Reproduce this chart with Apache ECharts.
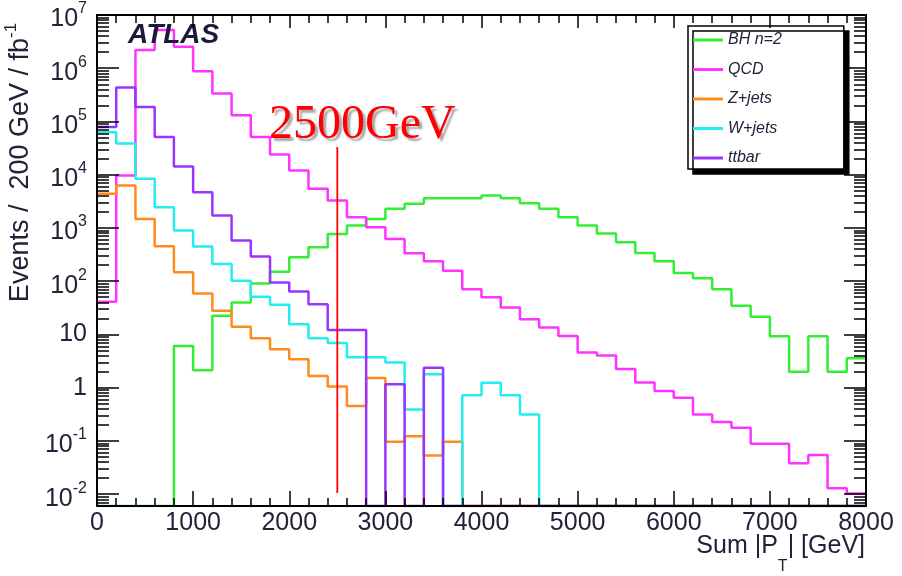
<!DOCTYPE html>
<html>
<head>
<meta charset="utf-8">
<script src="https://cdn.jsdelivr.net/npm/echarts@6.0.0/dist/echarts.min.js"></script>
<style>
html, body { margin: 0; padding: 0; background: #fff; }
#main { width: 902px; height: 576px; }
</style>
</head>
<body>
<div id="main"></div>
<script>
// bin edges in GeV (200 GeV bins, 0 - 8000)
var binEdges = [0, 200, 400, 600, 800, 1000, 1200, 1400, 1600, 1800,
    2000, 2200, 2400, 2600, 2800, 3000, 3200, 3400, 3600, 3800,
    4000, 4200, 4400, 4600, 4800, 5000, 5200, 5400, 5600, 5800,
    6000, 6200, 6400, 6600, 6800, 7000, 7200, 7400, 7600, 7800, 8000];

// events / 200 GeV / fb^-1, one value per bin (0 = empty bin)
var bhN2 = [0, 0, 0, 0, 6.1, 2.13, 22.4, 40, 91, 151,
    281, 433, 774, 1110, 1480, 2290, 2840, 3630, 3630, 3630,
    4070, 3630, 2920, 2290, 1590, 1110, 789, 542, 340, 236,
    142, 114, 71, 34.6, 21.4, 9.3, 1.99, 9.3, 1.99, 3.56];
var qcd = [41, 9700, 2.19e6, 5.2e6, 2.53e6, 8.8e5, 3.35e5, 1.31e5, 5.1e4, 2.41e4,
    1.2e4, 5450, 3280, 1590, 1030, 623, 334, 236, 158, 71,
    50, 32, 19.4, 13.5, 9.4, 4.56, 4.04, 2.25, 1.25, 0.87,
    0.65, 0.314, 0.226, 0.176, 0.0886, 0.0886, 0.0382, 0.0547, 0.0129, 0.0103];
var zJets = [4390, 6280, 1480, 456, 147, 58.9, 27.8, 13.9, 8.5, 5.28,
    3.43, 1.66, 1.05, 0.452, 1.52, 0.097, 0.123, 0.0533, 0.097, 0,
    0, 0, 0, 0, 0, 0, 0, 0, 0, 0,
    0, 0, 0, 0, 0, 0, 0, 0, 0, 0];
var wJets = [6.3e4, 3.84e4, 8410, 2460, 894, 451, 211, 102, 51, 36,
    15.6, 8.5, 6.9, 3.74, 3.74, 2.96, 0.39, 1.79, 0, 0.72,
    1.24, 0.72, 0.315, 0, 0, 0, 0, 0, 0, 0,
    0, 0, 0, 0, 0, 0, 0, 0, 0, 0];
var ttbar = [7.9e4, 4.34e5, 1.87e5, 5.1e4, 1.43e4, 4700, 1710, 580, 292, 95,
    64, 37, 12.1, 12.1, 0, 1.16, 0, 2.38, 0, 0,
    0, 0, 0, 0, 0, 0, 0, 0, 0, 0,
    0, 0, 0, 0, 0, 0, 0, 0, 0, 0];

var seriesNames = ['BH n=2', 'QCD', 'Z+jets', 'W+jets', 'ttbar'];
var seriesColors = ['#33ee33', '#ff33ff', '#ff8a1e', '#22eeee', '#9933ff'];
var seriesValues = [bhN2, qcd, zJets, wJets, ttbar];

// y tick labels (decades)
var decades = [0.01, 0.1, 1, 10, 100, 1e3, 1e4, 1e5, 1e6, 1e7];
var Y_MIN = 0.006, Y_MAX = 1e7;

// cut line at 2500 GeV
var CUT_GEV = 2500;
var cutRange = [0.0105, 33000];

var FONT = 'Liberation Sans';
var TXT = '#222238';

// minor ticks 2..9 of each decade
var minorTicks = [];
for (var d = 0.001; d < Y_MAX; d *= 10) {
    for (var k = 2; k <= 9; k++) {
        var t = +(d * k).toPrecision(3);
        if (t >= Y_MIN && t <= Y_MAX) minorTicks.push(t);
    }
}

// histogram as step line: value of bin i from edge i to edge i+1
function histData(vals) {
    var out = [];
    for (var i = 0; i < binEdges.length; i++) {
        var v = vals[Math.min(i, vals.length - 1)];
        out.push([binEdges[i], v > 0 ? v : Y_MIN]);
    }
    return out;
}

var blackLine = { color: '#000', width: 2 };
var tickLine = { color: '#000', width: 1.5 };

var xCommon = {
    type: 'value', min: 0, max: 8000, interval: 1000, z: 10,
    splitLine: { show: false },
    axisLine: { show: true, onZero: false, lineStyle: blackLine }
};
var yCommon = {
    type: 'log', logBase: 10, min: Y_MIN, max: Y_MAX, z: 10,
    splitLine: { show: false }, minorTick: { show: false }, minorSplitLine: { show: false }
};

function yLabel(v) {
    var e = Math.round(Math.log10(v));
    if (e === 0) return '1';
    if (e === 1) return '10';
    return '{b|10}{s|' + e + '}';
}

var myChart = echarts.init(document.getElementById('main'));

var series = [];
for (var i = 0; i < seriesNames.length; i++) {
    series.push({
        name: seriesNames[i],
        type: 'line',
        step: 'end',
        data: histData(seriesValues[i]),
        symbol: 'none',
        color: seriesColors[i],
        lineStyle: { color: seriesColors[i], width: 2.5 },
        xAxisIndex: 0,
        yAxisIndex: 0
    });
}
// red cut line with its label on top
series.push({
    name: 'cut',
    type: 'line',
    data: [[CUT_GEV, cutRange[0]], [CUT_GEV, cutRange[1]]],
    symbol: 'none',
    silent: true,
    color: '#ff0000',
    lineStyle: { color: '#ff0000', width: 1.8 },
    xAxisIndex: 0,
    yAxisIndex: 0,
    markPoint: {
        silent: true,
        symbol: 'rect', symbolSize: 1,
        itemStyle: { color: 'transparent' },
        data: [{ coord: [CUT_GEV, cutRange[1]] }],
        label: {
            show: true, position: 'top', distance: 0, offset: [25, 3],
            formatter: CUT_GEV + 'GeV',
            fontFamily: 'Liberation Serif', fontSize: 48, lineHeight: 48,
            color: '#ff0000',
            textShadowColor: 'rgba(0,0,0,0.35)', textShadowBlur: 2,
            textShadowOffsetX: 3, textShadowOffsetY: 3
        }
    }
});

var option = {
    animation: false,
    // ATLAS tag and x axis title
    title: [
        {
            text: 'ATLAS', left: 128, top: 21, padding: 0,
            textStyle: { fontFamily: FONT, fontStyle: 'italic', fontWeight: 'bold', fontSize: 28, lineHeight: 28, color: '#1a1a3a' }
        },
        {
            text: '{a|Sum |P}{t|T}{a|| [GeV]}', right: 37, top: 534, padding: 0,
            textStyle: {
                rich: {
                    a: { fontFamily: FONT, fontSize: 25, fontWeight: 'normal', color: TXT, lineHeight: 30, verticalAlign: 'top' },
                    t: { fontFamily: FONT, fontSize: 16, fontWeight: 'normal', color: TXT, lineHeight: 18, padding: [25, 0, 0, 0], verticalAlign: 'top' }
                }
            }
        }
    ],
    grid: { left: 97, right: 36, top: 15, bottom: 70, outerBoundsMode: 'none' },
    legend: {
        data: seriesNames,
        orient: 'vertical',
        left: 688, top: 26,
        icon: 'rect', itemWidth: 30, itemHeight: 3, itemGap: 13.5,
        padding: [6, 62, 3, 5],
        backgroundColor: '#fff',
        borderColor: '#000', borderWidth: 1.5, borderRadius: 0,
        shadowColor: '#000', shadowBlur: 0, shadowOffsetX: 5, shadowOffsetY: 5,
        selectedMode: false,
        textStyle: { fontFamily: FONT, fontStyle: 'italic', fontSize: 16, lineHeight: 16, color: TXT }
    },
    xAxis: [
        Object.assign({}, xCommon, {
            position: 'bottom',
            axisTick: { show: true, inside: true, length: 15, lineStyle: tickLine },
            minorTick: { show: true, splitNumber: 5, length: 8, lineStyle: tickLine },
            axisLabel: { fontFamily: FONT, fontSize: 25, color: TXT, margin: 5,
                formatter: function (v) { return String(v); } }
        }),
        Object.assign({}, xCommon, {
            position: 'top',
            axisTick: { show: true, inside: true, length: 13, lineStyle: tickLine },
            minorTick: { show: true, splitNumber: 5, length: 8, lineStyle: tickLine },
            axisLabel: { show: false }
        })
    ],
    yAxis: [
        Object.assign({}, yCommon, {
            position: 'left',
            name: '{a|Events /  200 GeV / fb}{s|-1}',
            nameLocation: 'middle', nameRotate: 90, nameGap: 54,
            nameTextStyle: {
                padding: [0, 0, 0, 196],
                rich: {
                    a: { fontFamily: FONT, fontSize: 27, color: TXT, lineHeight: 30, verticalAlign: 'bottom' },
                    s: { fontFamily: FONT, fontSize: 17, color: TXT, lineHeight: 18, padding: [0, 0, 14, 0], verticalAlign: 'bottom' }
                }
            },
            axisLine: { show: true, onZero: false, lineStyle: blackLine },
            axisTick: { show: true, inside: true, length: 22, customValues: decades, lineStyle: tickLine },
            axisLabel: {
                customValues: decades,
                formatter: yLabel,
                fontFamily: FONT, fontSize: 25, color: TXT, margin: 10,
                rich: {
                    b: { fontFamily: FONT, fontSize: 25, color: TXT, verticalAlign: 'top', lineHeight: 28, padding: [6, 0, 0, 0] },
                    s: { fontFamily: FONT, fontSize: 16, color: TXT, verticalAlign: 'top', lineHeight: 18 }
                }
            }
        }),
        Object.assign({}, yCommon, {
            position: 'left',
            axisLine: { show: false, onZero: false },
            axisTick: { show: true, inside: true, length: 12, customValues: minorTicks, lineStyle: tickLine },
            axisLabel: { show: false }
        }),
        Object.assign({}, yCommon, {
            position: 'right',
            axisLine: { show: true, onZero: false, lineStyle: blackLine },
            axisTick: { show: true, inside: true, length: 22, customValues: decades, lineStyle: tickLine },
            axisLabel: { show: false }
        }),
        Object.assign({}, yCommon, {
            position: 'right',
            axisLine: { show: false, onZero: false },
            axisTick: { show: true, inside: true, length: 12, customValues: minorTicks, lineStyle: tickLine },
            axisLabel: { show: false }
        })
    ],
    series: series
};
myChart.setOption(option);
</script>
</body>
</html>
